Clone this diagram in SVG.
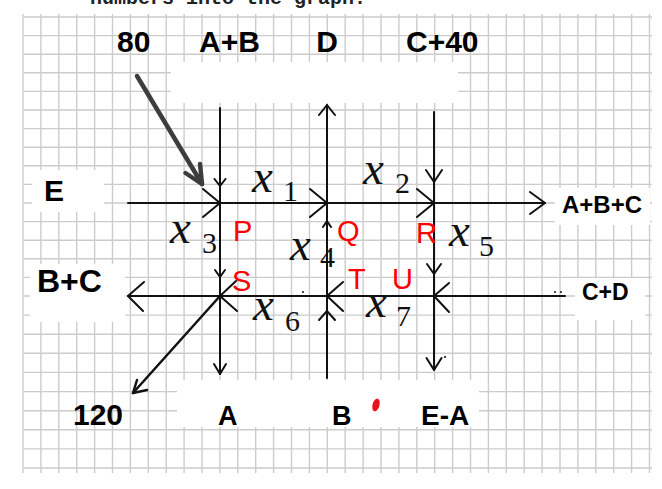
<svg xmlns="http://www.w3.org/2000/svg" width="662" height="489" viewBox="0 0 662 489">
<style>
.grid{stroke:#cccccc;stroke-width:1.4;fill:none}
.ln{stroke:#111;stroke-width:2;fill:none;stroke-linecap:round;stroke-linejoin:round}
.thick{stroke:#3d3d3d;stroke-width:4.5;fill:none;stroke-linecap:round;stroke-linejoin:round}
.lbl{font-family:"Liberation Sans",Arial,sans-serif;font-weight:bold;fill:#000}
.red{font-family:"Liberation Sans",Arial,sans-serif;fill:#f00;font-size:29px}
.mx{font-family:"Liberation Serif","Times New Roman",serif;font-style:italic;font-size:47px;fill:#111}
.sub{font-family:"Liberation Serif","Times New Roman",serif;font-size:30px;fill:#111}
.patch{fill:#fff}
</style>
<rect width="662" height="489" fill="#fff"/>
<text x="90" y="4" font-family="Liberation Mono,monospace" font-size="20" font-weight="bold" fill="#222">numbers into the graph.</text>
<g id="grid">
<path class="grid" d="M23 14V473M40.9 14V473M58.8 14V473M76.7 14V473M94.6 14V473M112.5 14V473M130.4 14V473M148.3 14V473M166.2 14V473M184.1 14V473M202 14V473M219.9 14V473M237.8 14V473M255.7 14V473M273.6 14V473M291.5 14V473M309.4 14V473M327.3 14V473M345.2 14V473M363.1 14V473M381 14V473M398.9 14V473M416.8 14V473M434.7 14V473M452.6 14V473M470.5 14V473M488.4 14V473M506.3 14V473M524.2 14V473M542.1 14V473M560 14V473M577.9 14V473M595.8 14V473M613.7 14V473M631.6 14V473M649.5 14V473"/>
<path class="grid" d="M24 17H652M24 35.6H652M24 54.2H652M24 72.8H652M24 91.4H652M24 110H652M24 128.6H652M24 147.2H652M24 165.8H652M24 184.4H652M24 203H652M24 221.6H652M24 240.2H652M24 258.8H652M24 277.4H652M24 296H652M24 315.1H652M24 334.2H652M24 353.3H652M24 372.4H652M24 391.6H652M24 410.7H652M24 429.8H652M24 448.9H652M24 468H652"/>
</g>
<g id="patches">
<rect class="patch" x="171" y="62" width="287" height="41"/>
<rect class="patch" x="177" y="380" width="302" height="47"/>
<rect class="patch" x="32" y="170" width="72" height="42"/>
<rect class="patch" x="30" y="264" width="95" height="58"/>
<rect class="patch" x="555" y="188" width="95" height="37"/>
<rect class="patch" x="575" y="278" width="70" height="42"/>
</g>
<g id="connectors">
<line class="ln" x1="128" y1="203" x2="545" y2="203"/>
<line class="ln" x1="128" y1="296" x2="565" y2="296"/>
<line class="ln" x1="220" y1="108" x2="220" y2="374"/>
<line class="ln" x1="327" y1="105" x2="327" y2="378"/>
<line class="ln" x1="434" y1="112" x2="434" y2="370"/>
<line class="ln" x1="220" y1="296" x2="133" y2="393" style="stroke-width:2.5"/>
<path class="ln" d="M137 380L133 393L147 390" style="stroke-width:2.5"/>
<line class="thick" x1="137" y1="76" x2="202" y2="184"/>
<path class="thick" d="M200 164L202 184L185.5 173"/>
<path class="ln" d="M203 189L220 203L203 217M310 189L327 203L310 217M417 189L434 203L417 217"/>
<path class="ln" d="M236 281L220 296L237 311M343 282L327 296L343 311M449 283L434 296L449 312"/>
<path class="ln" d="M530 192L545 203L530 214M144 282L128 296L143 311"/>
<path class="ln" d="M214.5 179L220 186L225.5 179M215 270L220 277L225 270M214 364L220 374L226 364"/>
<path class="ln" d="M426 170L434 182L442 170M427 264L434 274L441 264M426.5 358L434 370L441.5 358"/>
<path class="ln" d="M319 115L327 105L335 115M323 227L327 221L331 227M319 320L327 311L335 320"/>
<circle cx="303" cy="292" r="1" fill="#111"/>
<circle cx="445" cy="357" r="1.1" fill="#111"/>
<circle cx="555" cy="292" r="1" fill="#111"/>
<circle cx="561" cy="292" r="1" fill="#111"/>
</g>
<g id="flow-labels">
<text class="mx" x="252" y="192">x</text><text class="sub" x="283" y="201">1</text>
<text class="mx" x="363" y="184">x</text><text class="sub" x="395" y="193">2</text>
<text class="mx" x="170" y="243">x</text><text class="sub" x="202" y="253">3</text>
<text class="mx" x="290" y="260">x</text><text class="sub" x="320" y="267">4</text>
<text class="mx" x="449" y="246">x</text><text class="sub" x="479" y="256">5</text>
<text class="mx" x="253" y="320">x</text><text class="sub" x="285" y="331">6</text>
<text class="mx" x="366" y="317">x</text><text class="sub" x="396" y="326">7</text>
</g>
<g id="node-P"><text class="red" x="233" y="241">P</text></g>
<g id="node-Q"><text class="red" x="337" y="241">Q</text></g>
<g id="node-R"><text class="red" x="416" y="243">R</text></g>
<g id="node-S"><text class="red" x="232" y="291">S</text></g>
<g id="node-T"><text class="red" x="348" y="289">T</text></g>
<g id="node-U"><text class="red" x="392" y="289">U</text></g>
<g id="in-80"><text class="lbl" x="117" y="52" font-size="30">80</text></g>
<g id="in-AB"><text class="lbl" x="199" y="52" font-size="30">A+B</text></g>
<g id="in-D"><text class="lbl" x="327" y="52" font-size="30" text-anchor="middle">D</text></g>
<g id="in-C40"><text class="lbl" x="406" y="52" font-size="30">C+40</text></g>
<g id="in-E"><text class="lbl" x="44" y="201" font-size="30">E</text></g>
<g id="out-BC"><text class="lbl" x="37" y="292" font-size="32">B+C</text></g>
<g id="out-ABC"><text class="lbl" x="562" y="213" font-size="24">A+B+C</text></g>
<g id="in-CD"><text class="lbl" x="582" y="300" font-size="23">C+D</text></g>
<g id="out-120"><text class="lbl" x="73" y="425" font-size="30">120</text></g>
<g id="out-A"><text class="lbl" x="218" y="425" font-size="27">A</text></g>
<g id="out-B"><text class="lbl" x="332" y="425" font-size="27">B</text></g>
<g id="out-EA"><text class="lbl" x="421" y="425" font-size="28">E-A</text></g>
<ellipse cx="376" cy="405" rx="3.5" ry="6.5" transform="rotate(15 376 405)" fill="#e8101a"/>
</svg>
